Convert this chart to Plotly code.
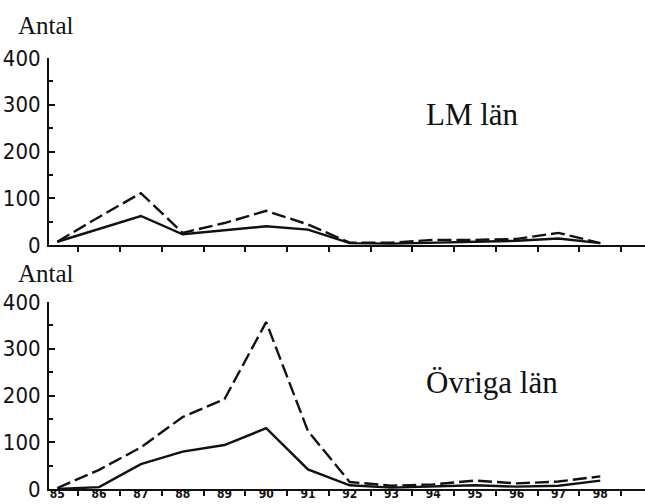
import plotly.graph_objects as go

# Years 1985-1998, labelled with two digits
years = list(range(85, 99))
year_labels = [str(y) for y in years]

# LM län
lm_solid = [7, 35, 62, 23, 31, 40, 33, 4, 3, 5, 7, 9, 14, 4]
lm_dashed = [7, 60, 111, 26, 47, 73, 44, 5, 5, 11, 11, 13, 26, 4]

# Övriga län
ov_solid = [0, 4, 53, 80, 94, 130, 42, 8, 3, 5, 8, 5, 7, 18]
ov_dashed = [2, 41, 89, 154, 192, 357, 124, 15, 7, 10, 18, 12, 16, 27]

W, H = 645, 504
INK = "#111111"
DASH = "14px,5px"
NARROW = "DejaVu Sans Condensed, DejaVu Sans, sans-serif"
SERIF = "Liberation Serif, Times New Roman, serif"

x_range = [84.8, 99.07]
x_dom = [49 / W, 1.0]
top_dom = [(H - 245) / H, (H - 58) / H]
bot_dom = [(H - 489) / H, (H - 302) / H]
half_years = [y + 0.5 for y in years]

fig = go.Figure()


def add_series(xa, ya, solid, dashed):
    fig.add_trace(go.Scatter(x=years, y=solid, mode="lines", xaxis=xa, yaxis=ya,
                             line=dict(color=INK, width=2.4), showlegend=False,
                             hoverinfo="skip"))
    fig.add_trace(go.Scatter(x=years, y=dashed, mode="lines", xaxis=xa, yaxis=ya,
                             line=dict(color=INK, width=2.4, dash=DASH),
                             showlegend=False, hoverinfo="skip"))


add_series("x2", "y2", lm_solid, lm_dashed)
add_series("x", "y", ov_solid, ov_dashed)

yaxis_common = dict(
    range=[0, 400], tickvals=[0, 100, 200, 300, 400], showgrid=False, zeroline=False,
    showline=True, linecolor=INK, linewidth=2, ticks="inside", ticklen=6, tickwidth=2,
    tickcolor=INK, minor=dict(dtick=50, ticks="inside", ticklen=4, tickwidth=1.5,
                              tickcolor=INK, showgrid=False),
    tickfont=dict(family=NARROW, size=22, color=INK), fixedrange=True,
    automargin=False, ticklabelstandoff=2,
)
right_common = dict(
    range=[0, 400], tickvals=[0, 100, 200, 300, 400], side="right", showgrid=False,
    zeroline=False, showline=False, ticks="inside", ticklen=5, tickwidth=2,
    tickcolor=INK, showticklabels=False, automargin=False,
    minor=dict(dtick=50, ticks="inside", ticklen=2, tickwidth=1.5, tickcolor="#777"),
)
xaxis_common = dict(
    range=x_range, domain=x_dom, tickvals=years, ticktext=year_labels, ticks="",
    showgrid=False, zeroline=False, showline=True, linecolor=INK, linewidth=2,
    minor=dict(tickvals=half_years, ticks="outside", ticklen=5, tickwidth=2,
               tickcolor=INK, showgrid=False),
    fixedrange=True, automargin=False,
)

fig.update_layout(
    width=W, height=H, margin=dict(l=0, r=0, t=0, b=0, autoexpand=False),
    paper_bgcolor="white", plot_bgcolor="white", showlegend=False,
    xaxis=dict(**xaxis_common, anchor="y", showticklabels=True,
               tickfont=dict(family=NARROW, size=12, color=INK, weight="bold"),
               ticklabelstandoff=-7),
    xaxis2=dict(**xaxis_common, anchor="y2", showticklabels=False),
    yaxis=dict(**yaxis_common, domain=bot_dom, anchor="x"),
    yaxis2=dict(**yaxis_common, domain=top_dom, anchor="x2"),
    yaxis3=dict(**right_common, overlaying="y", anchor="x"),
    yaxis4=dict(**right_common, overlaying="y2", anchor="x2"),
)

# Panel headings and the "Antal" unit captions
for text, y_px in [("Antal", 25), ("Antal", 273)]:
    fig.add_annotation(text=text, xref="paper", yref="paper", x=16 / W,
                       y=(H - y_px) / H, xanchor="left", yanchor="middle",
                       showarrow=False, font=dict(family=SERIF, size=25, color=INK))
for text, x_px, y_px in [("LM län", 472, 115), ("Övriga län", 492, 382)]:
    fig.add_annotation(text=text, xref="paper", yref="paper", x=x_px / W,
                       y=(H - y_px) / H, xanchor="center", yanchor="middle",
                       showarrow=False, font=dict(family=SERIF, size=31, color=INK))

fig.write_html("out.html")
